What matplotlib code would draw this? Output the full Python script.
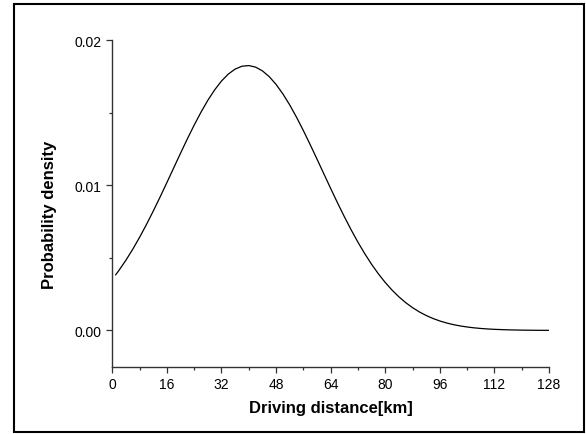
import numpy as np
import matplotlib.pyplot as plt
from matplotlib.patches import Rectangle
from matplotlib.ticker import MultipleLocator

plt.rcParams['font.family'] = ['Liberation Sans', 'DejaVu Sans']

# Curve values (driving distance in km, density)
distance_km = [1, 2, 4, 6, 8, 10, 12, 14, 16, 18, 20, 22, 24, 26, 28, 30,
               32, 34, 36, 38, 40, 42, 44, 46, 48, 50, 52, 54, 56, 58, 60,
               62, 64, 66, 68, 70, 72, 74, 76, 78, 80, 82, 84, 86, 88, 90,
               92, 94, 96, 98, 100, 102, 104, 106, 108, 110, 112, 116, 120,
               124, 128]
density = [0.003835, 0.004154, 0.004842, 0.005597, 0.006417, 0.007295,
           0.008223, 0.009192, 0.010189, 0.011203, 0.012212, 0.013202,
           0.014152, 0.015044, 0.015861, 0.016580, 0.017188, 0.017671,
           0.018013, 0.018211, 0.018257, 0.018150, 0.017893, 0.017493,
           0.016960, 0.016304, 0.015545, 0.014696, 0.013777, 0.012809,
           0.011809, 0.010797, 0.009789, 0.008800, 0.007846, 0.006937,
           0.006081, 0.005288, 0.004558, 0.003897, 0.003305, 0.002779,
           0.002317, 0.001915, 0.001570, 0.001276, 0.001029, 0.000823,
           0.000652, 0.000513, 0.000400, 0.000309, 0.000237, 0.000180,
           0.000136, 0.000102, 0.0000754, 0.0000404, 0.000021, 0.0000105,
           0.0000051]

x_ticks = [0, 16, 32, 48, 64, 80, 96, 112, 128]
y_ticks = [0.0, 0.01, 0.02]
y_tick_labels = ['0.00', '0.01', '0.02']

fig = plt.figure(figsize=(5.86, 4.35), dpi=100)
ax = fig.add_axes([0.1916, 0.1547, 0.7453, 0.7504])

ax.plot(distance_km, density, color='black', linewidth=0.9)

ax.set_xlim(0, 128)
ax.set_ylim(-0.0025, 0.02)
ax.set_xticks(x_ticks)
ax.xaxis.set_minor_locator(MultipleLocator(8))
ax.set_yticks(y_ticks)
ax.set_yticklabels(y_tick_labels)
ax.yaxis.set_minor_locator(MultipleLocator(0.005))

for side in ['top', 'right']:
    ax.spines[side].set_visible(False)
for side in ['left', 'bottom']:
    ax.spines[side].set_color('#333333')
    ax.spines[side].set_linewidth(1.0)

ax.tick_params(which='major', direction='out', length=4.5, width=0.9,
               labelsize=10, color='#333333', pad=3)
ax.tick_params(which='minor', direction='out', length=2.2, width=0.9,
               color='#333333')

ax.set_xlabel('Driving distance[km]', fontsize=12, fontweight='bold',
              labelpad=6.5)
ax.set_ylabel('Probability density', fontsize=12, fontweight='bold',
              labelpad=13)
ax.yaxis.label.set_y(0.468)

# outer frame around the whole figure
fig.patches.append(Rectangle((14 / 586, 2 / 435), 570 / 586, 428 / 435,
                             transform=fig.transFigure, fill=False,
                             edgecolor='black', linewidth=1.5))

fig.savefig('out.png', dpi=100)
